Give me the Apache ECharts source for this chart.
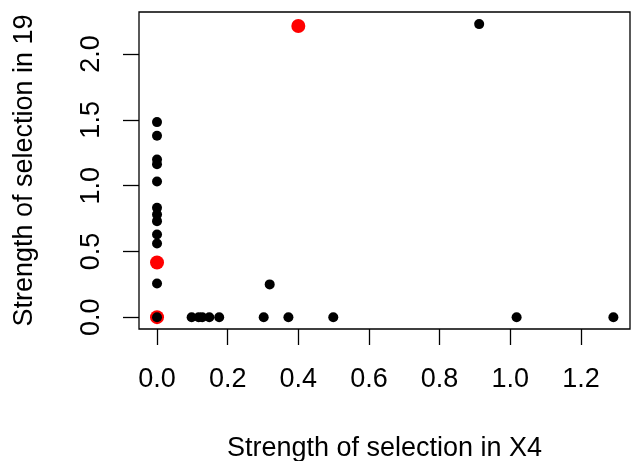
<!DOCTYPE html>
<html>
<head>
<meta charset="utf-8">
<script src="https://cdn.jsdelivr.net/npm/echarts@6/dist/echarts.min.js"></script>
<style>
html,body{margin:0;padding:0;background:#fff;}
#chart{width:631px;height:461px;}
</style>
</head>
<body>
<div id="chart"></div>
<script>
// Black points (x = strength in X4, y = strength in 19)
const blackX = [0, 0, 0, 0, 0, 0, 0, 0, 0, 0, 0, 0,
                0.098, 0.118, 0.128, 0.148, 0.176, 0.302, 0.319, 0.372, 0.499, 0.912, 1.018, 1.292];
const blackY = [1.483, 1.379, 1.199, 1.163, 1.032, 0.831, 0.781, 0.730, 0.629, 0.560, 0.256, 0,
                0, 0, 0, 0, 0, 0, 0.249, 0, 0, 2.228, 0, 0];
// Red (highlighted) points
const redX = [0.400, 0, 0];
const redY = [2.213, 0.416, 0];
// Tick labels
const xTicks = [0, 0.2, 0.4, 0.6, 0.8, 1.0, 1.2];
const yTicks = [0, 0.5, 1.0, 1.5, 2.0];
const xTitle = 'Strength of selection in X4';
const yTitle = 'Strength of selection in 19';

const FONT = '"Liberation Sans", Arial, Helvetica, sans-serif';
const FS = 27;

const chart = echarts.init(document.getElementById('chart'), null, {renderer: 'canvas'});
chart.setOption({
  animation: false,
  backgroundColor: '#fff',
  grid: {
    left: 139, top: 12, width: 491, height: 317,
    containLabel: false, outerBoundsMode: 'none',
    show: true, borderColor: '#000', borderWidth: 1.3, backgroundColor: 'transparent'
  },
  xAxis: {
    type: 'value', min: -0.051, max: 1.339,
    axisLine: {show: false, onZero: false},
    splitLine: {show: false},
    axisTick: {show: true, inside: false, length: 16, customValues: xTicks, lineStyle: {color: '#000', width: 1.3}},
    axisLabel: {customValues: xTicks, margin: 37, color: '#000', fontSize: FS, fontFamily: FONT,
                formatter: v => v.toFixed(1)},
    name: xTitle, nameLocation: 'middle', nameGap: 106,
    nameTextStyle: {color: '#000', fontSize: FS, fontFamily: FONT}
  },
  yAxis: {
    type: 'value', min: -0.09, max: 2.32,
    axisLine: {show: false, onZero: false},
    splitLine: {show: false},
    axisTick: {show: true, inside: false, length: 16, customValues: yTicks, lineStyle: {color: '#000', width: 1.3}},
    axisLabel: {customValues: yTicks, margin: 34, rotate: 90, color: '#000', fontSize: FS, fontFamily: FONT,
                formatter: v => v.toFixed(1)},
    name: yTitle, nameLocation: 'middle', nameGap: 101, nameRotate: 90,
    nameTextStyle: {color: '#000', fontSize: FS, fontFamily: FONT}
  },
  series: [
    {
      type: 'scatter', symbol: 'circle', symbolSize: 14,
      itemStyle: {color: '#ff0000', opacity: 1},
      data: redX.map((x, i) => [x, redY[i]]),
      z: 2
    },
    {
      type: 'scatter', symbol: 'circle', symbolSize: 10,
      itemStyle: {color: '#000000', opacity: 1},
      data: blackX.map((x, i) => [x, blackY[i]]),
      z: 3
    }
  ]
});
</script>
</body>
</html>
